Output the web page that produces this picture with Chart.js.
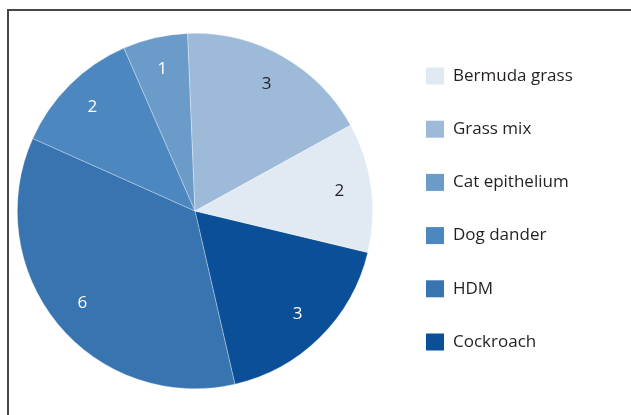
<!DOCTYPE html>
<html>
<head>
<meta charset="utf-8">
<script src="https://cdn.jsdelivr.net/npm/chart.js@4/dist/chart.umd.min.js"></script>
<style>
html,body{margin:0;padding:0;background:#fff;}
#wrap{position:relative;width:631px;height:415px;overflow:hidden;}
#frame{position:absolute;left:7px;top:9px;width:700px;height:500px;border-left:2px solid #474747;border-top:2px solid #474747;}
canvas{position:absolute;left:0;top:0;}
</style>
</head>
<body>
<div id="wrap">
<div id="frame"></div>
<canvas id="c" width="631" height="415"></canvas>
</div>
<script>
// Legend order
const categories = ["Bermuda grass", "Grass mix", "Cat epithelium", "Dog dander", "HDM", "Cockroach"];
const counts = [2, 3, 1, 2, 6, 3];
const colors = ["#e1eaf3", "#9dbbd9", "#6a9bc9", "#4c87bf", "#3774b0", "#0b4f98"];
const labelColors = ["#231f20", "#231f20", "#ffffff", "#ffffff", "#ffffff", "#ffffff"];

// The pie runs counter-clockwise in legend order; draw clockwise with reversed data
const order = [5, 4, 3, 2, 1, 0];
const pieLabels = order.map(i => categories[i]);
const pieData = order.map(i => counts[i]);
const pieColors = order.map(i => colors[i]);
const pieTextColors = order.map(i => labelColors[i]);

const FONT = '"Open Sans", "Noto Sans", sans-serif';

const sliceLabels = {
  id: 'sliceLabels',
  afterDatasetsDraw(chart) {
    const ctx = chart.ctx;
    const meta = chart.getDatasetMeta(0);
    ctx.save();
    ctx.font = '17px ' + FONT;
    ctx.textAlign = 'center';
    ctx.textBaseline = 'middle';
    meta.data.forEach((arc, i) => {
      const p = arc.getProps(['x', 'y', 'startAngle', 'endAngle', 'outerRadius'], true);
      const mid = (p.startAngle + p.endAngle) / 2;
      const r = p.outerRadius * 0.82;
      ctx.fillStyle = pieTextColors[i];
      ctx.fillText(String(pieData[i]), p.x + Math.cos(mid) * r, p.y + Math.sin(mid) * r);
    });
    ctx.restore();
  }
};

const customLegend = {
  id: 'customLegend',
  afterDraw(chart) {
    const ctx = chart.ctx;
    ctx.save();
    ctx.font = '17px ' + FONT;
    ctx.textBaseline = 'middle';
    ctx.textAlign = 'left';
    categories.forEach((name, i) => {
      const cy = 76 + i * 53.2;
      ctx.fillStyle = colors[i];
      ctx.fillRect(426, cy - 8.5, 18, 17);
      ctx.fillStyle = '#231f20';
      ctx.fillText(name, 453, cy);
    });
    ctx.restore();
  }
};

new Chart(document.getElementById('c'), {
  type: 'pie',
  data: {
    labels: pieLabels,
    datasets: [{
      data: pieData,
      backgroundColor: pieColors,
      borderWidth: 0.6,
      borderColor: 'rgba(255,255,255,0.5)'
    }]
  },
  options: {
    responsive: false,
    animation: false,
    rotation: 103.5,
    layout: { padding: { top: 33, bottom: 26, left: 17, right: 258 } },
    plugins: {
      legend: { display: false },
      tooltip: { enabled: false }
    }
  },
  plugins: [sliceLabels, customLegend]
});
</script>
</body>
</html>
